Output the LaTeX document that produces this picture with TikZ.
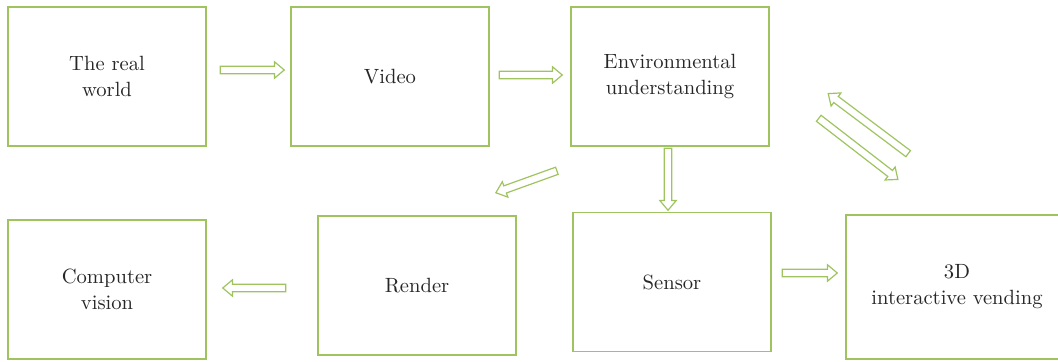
\documentclass[tikz,border=0pt]{standalone}
\usepackage{tikz}
\usetikzlibrary{shapes.arrows}
\definecolor{leaf}{HTML}{9FC45F}
\definecolor{ink}{HTML}{262626}

\tikzset{
  box/.style={draw=leaf, line width=0.75pt, minimum width=99pt, minimum height=69.5pt,
    align=center, text=ink, font=\fontsize{10.3}{13}\selectfont},
  barrow/.style={single arrow, draw=leaf, line width=0.6pt, inner xsep=0pt, inner ysep=1.6pt,
    single arrow head extend=2.2pt, single arrow tip angle=80}
}

\begin{document}
\begin{tikzpicture}[x=0.5pt, y=-0.5pt]
        \useasboundingbox (0, 0) rectangle (1058, 362);

        % top row
        \node[box] (world) at (107, 76.5) {The real\\world};
        \node[box] (video) at (390, 76.5) {Video};
        \node[box] (env) at (670, 76.5) {Environmental\\understanding};

        % bottom row
        \node[box] (vision) at (107, 289.5) {Computer\\vision};
        \node[box] (render) at (417, 285.5) {Render};
        \node[box] (sensor) at (672, 282) {Sensor};
        \node[box, minimum width=111pt, minimum height=72pt] (vending) at (957, 287) {3D\\interactive vending};

        % block arrows
        \node[barrow, minimum height=32pt] (a1) at (250, 70) {};
        \node[barrow, minimum height=31.5pt] (a2) at (528.5, 75) {};
        \node[barrow, minimum height=32.4pt, rotate=199.8] (a3) at (528.5, 181) {};
        \node[barrow, minimum height=31pt, rotate=-90] (a4) at (668, 177) {};
        \node[barrow, minimum height=50pt, rotate=143.1] (a5) at (870, 125) {};
        \node[barrow, minimum height=50pt, rotate=-37.7] (a6) at (856.5, 147.5) {};
        \node[barrow, minimum height=31.5pt, rotate=180] (a7) at (256.5, 288) {};
        \node[barrow, minimum height=27.5pt] (a8) at (807.5, 273) {};
\end{tikzpicture}
\end{document}
